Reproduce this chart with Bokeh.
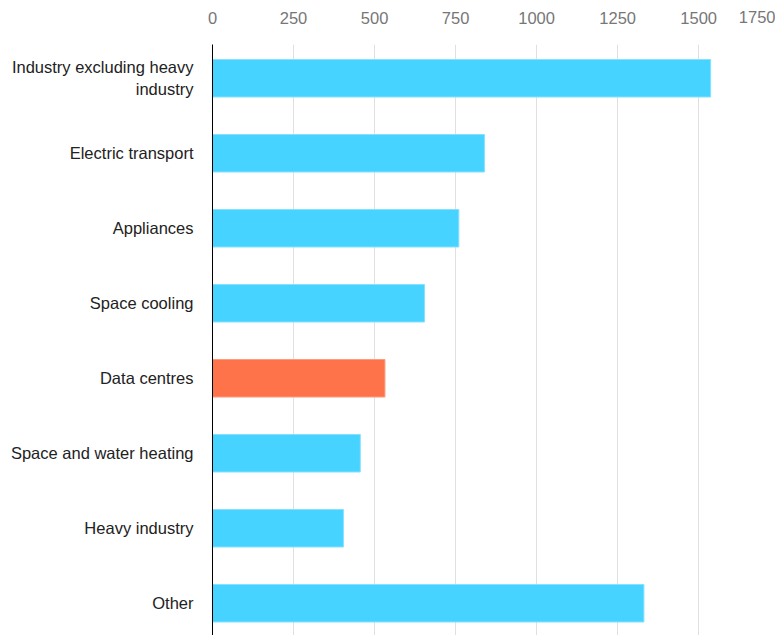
import numpy as np
from bokeh.plotting import figure
from bokeh.models import ColumnDataSource, Range1d, FixedTicker, LinearAxis
from bokeh.embed import file_html
from bokeh.resources import INLINE

# --- data ---
categories = [
    "Industry excluding heavy\nindustry",
    "Electric transport",
    "Appliances",
    "Space cooling",
    "Data centres",
    "Space and water heating",
    "Heavy industry",
    "Other",
]
values = [1537, 839, 760, 654, 532, 456, 404, 1331]
highlight = "Data centres"
x_ticks = [0, 250, 500, 750, 1000, 1250, 1500, 1750]

BLUE = "#47D3FF"
ORANGE = "#FF734A"

W, H = 775, 635
LEFT, TOP = 212, 44
X_END = 1737

ypos = list(range(len(categories)))
colors = [ORANGE if c == highlight else BLUE for c in categories]
edge = ["#FF9A7C" if c == highlight else "#85E1FF" for c in categories]
src = ColumnDataSource(dict(y=ypos, v=values, color=colors, edge=edge))

FONT = "Liberation Sans"
FS = "16.5px"

in_range = [t for t in x_ticks if t <= X_END]
beyond = [t for t in x_ticks if t > X_END]

p = figure(
    width=W, height=H,
    x_range=Range1d(0, X_END), y_range=Range1d(7.43, -0.45),
    output_backend="svg", toolbar_location=None,
    x_axis_location=None, y_axis_location=None,
    min_border_left=LEFT, min_border_right=0, min_border_top=TOP, min_border_bottom=0,
    title=" ".join(str(t) for t in beyond),
)
p.outline_line_color = None
p.background_fill_color = "white"
p.border_fill_color = "white"

# the last tick (1750) lies just past the visible edge: shown right-aligned
# on the tick-label row
p.title.align = "right"
p.title.vertical_align = "bottom"
p.title.standoff = -28
p.title.offset = 0
p.title.text_font = FONT
p.title.text_font_size = FS
p.title.text_font_style = "normal"
p.title.text_color = "#777777"

p.hbar(y="y", right="v", left=0, height=0.5, fill_color="color",
       line_color="edge", line_width=1, source=src)

# top axis
xa = LinearAxis(ticker=FixedTicker(ticks=in_range))
xa.axis_line_color = None
xa.major_tick_line_color = None
xa.minor_tick_line_color = None
xa.major_label_text_font = FONT
xa.major_label_text_font_size = FS
xa.major_label_text_color = "#777777"
xa.major_label_standoff = 15
p.add_layout(xa, "above")

# left axis
ya = LinearAxis(ticker=FixedTicker(ticks=ypos),
                major_label_overrides={i: c for i, c in zip(ypos, categories)})
ya.axis_line_color = "black"
ya.axis_line_width = 1
ya.major_tick_line_color = None
ya.minor_tick_line_color = None
ya.major_tick_out = 0
ya.major_tick_in = 0
ya.major_label_text_font = FONT
ya.major_label_text_font_size = FS
ya.major_label_text_color = "#222222"
ya.major_label_standoff = 19
p.add_layout(ya, "left")

p.xgrid.ticker = FixedTicker(ticks=x_ticks)
p.xgrid.grid_line_color = "#e0e0e0"
p.xgrid.grid_line_width = 1
p.ygrid.grid_line_color = None

open("out.html", "w").write(file_html(p, INLINE))
